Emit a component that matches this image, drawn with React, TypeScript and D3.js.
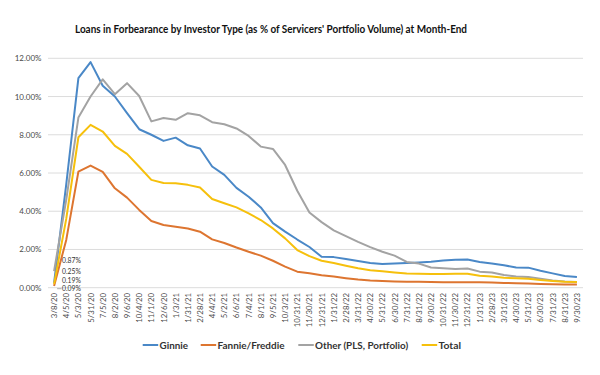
import React from "react";
import * as d3 from "d3";

const dates = [
  "3/8/20", "4/5/20", "5/3/20", "5/31/20", "7/5/20", "8/2/20", "9/6/20", "10/4/20", "11/1/20", "12/6/20",
  "1/3/21", "1/31/21", "2/28/21", "4/4/21", "5/2/21", "6/6/21", "7/4/21", "8/1/21", "9/5/21", "10/3/21",
  "10/31/21", "11/30/21", "12/31/21", "1/31/22", "2/28/22", "3/31/22", "4/30/22", "5/31/22", "6/30/22", "7/31/22",
  "8/31/22", "9/30/22", "10/31/22", "11/30/22", "12/31/22", "1/31/23", "2/28/23", "3/31/23", "4/30/23", "5/31/23",
  "6/30/23", "7/31/23", "8/31/23", "9/30/23",
];

const ginnie = [
  0.25, 5.4, 10.96, 11.8, 10.56, 10.0, 9.13, 8.29, 8.0, 7.68,
  7.85, 7.45, 7.28, 6.34, 5.9, 5.22, 4.76, 4.2, 3.38, 2.93,
  2.52, 2.13, 1.62, 1.6, 1.5, 1.4, 1.29, 1.24, 1.26, 1.29,
  1.32, 1.36, 1.42, 1.46, 1.47, 1.34, 1.27, 1.17, 1.06, 1.05,
  0.89, 0.75, 0.61, 0.56,
];

const fannieFreddie = [
  0.09, 2.5, 6.07, 6.39, 6.06, 5.2, 4.71, 4.07, 3.49, 3.28,
  3.19, 3.1, 2.93, 2.53, 2.34, 2.1, 1.88, 1.68, 1.41, 1.1,
  0.84, 0.75, 0.65, 0.58, 0.5, 0.43, 0.38, 0.35, 0.33, 0.31,
  0.31, 0.3, 0.29, 0.29, 0.29, 0.28, 0.27, 0.25, 0.23, 0.22,
  0.2, 0.18, 0.17, 0.17,
];

const other = [
  0.87, 4.6, 8.9, 10.0, 10.9, 10.12, 10.7, 10.03, 8.7, 8.88,
  8.78, 9.13, 9.02, 8.66, 8.55, 8.33, 7.94, 7.38, 7.26, 6.42,
  5.07, 3.93, 3.43, 3.0, 2.7, 2.4, 2.12, 1.88, 1.68, 1.35,
  1.26, 1.06, 1.02, 0.98, 1.0, 0.84, 0.79, 0.66, 0.59, 0.56,
  0.47, 0.38, 0.33, 0.3,
];

const total = [
  0.19, 3.6, 7.87, 8.52, 8.17, 7.42, 7.0, 6.33, 5.64, 5.48,
  5.46, 5.38, 5.24, 4.64, 4.42, 4.2, 3.89, 3.54, 3.1, 2.58,
  1.97, 1.65, 1.41, 1.29, 1.15, 1.02, 0.91, 0.86, 0.8, 0.74,
  0.73, 0.72, 0.72, 0.73, 0.73, 0.63, 0.58, 0.52, 0.49, 0.47,
  0.4, 0.35, 0.31, 0.3,
];

const yTicks = [0, 2, 4, 6, 8, 10, 12];

const seriesNames = ["Ginnie", "Fannie/Freddie", "Other (PLS, Portfolio)", "Total"];
const seriesColors = ["#4A88C7", "#DD7530", "#A3A3A3", "#F6C00C"];
const seriesData = [ginnie, fannieFreddie, other, total];

const title =
  "Loans in Forbearance by Investor Type (as % of Servicers' Portfolio Volume) at Month-End";

export default function App() {
  const W = 600;
  const H = 375;
  const left = 48;
  const right = 583;
  const top = 58.3;
  const bottom = 287.7;

  const x = d3.scalePoint<string>().domain(dates).range([left, right]).padding(0.5);
  const y = d3.scaleLinear().domain([0, 12]).range([bottom, top]);

  const line = (vals: number[]) =>
    d3
      .line<number>()
      .x((_, i) => x(dates[i]) as number)
      .y((v) => y(v))(vals) as string;

  const font = "Lato, 'Open Sans', 'Liberation Sans', sans-serif";

  // start-value labels (stacked as in the reference)
  const startLabels = [
    { v: other[0], dy: -24.5 },
    { v: ginnie[0], dy: -13.5 },
    { v: total[0], dy: -5 },
    { v: fannieFreddie[0], dy: 3.6 },
  ];

  const legendX = [142.7, 200.7, 298.3, 421.7];
  const legendTextW = [28.5, 67, 93, 22.5];

  return (
    <svg
      width={W}
      height={H}
      style={{ position: "fixed", left: 0, top: 0, background: "#fff" }}
      fontFamily={font}
    >
      <rect x={0} y={0} width={W} height={H} fill="#fff" />
      <text
        x={75}
        y={33}
        fontSize={11}
        fontWeight="bold"
        fill="#111"
        textLength={392}
        lengthAdjust="spacingAndGlyphs"
      >
        {title}
      </text>

      {yTicks.map((t) => (
        <g key={t}>
          <line x1={left} x2={right} y1={y(t)} y2={y(t)} stroke="#DCDCDC" strokeWidth={1} />
          <text x={41.5} y={y(t) + 3} fontSize={8} fill="#4a4a4a" textAnchor="end">
            {t.toFixed(2) + "%"}
          </text>
        </g>
      ))}

      {dates.map((d) => (
        <text
          key={d}
          transform={`translate(${(x(d) as number) + 3},293) rotate(-90)`}
          fontSize={7.8}
          fill="#4a4a4a"
          textAnchor="end"
        >
          {d}
        </text>
      ))}

      {seriesData.map((vals, k) => (
        <path
          key={k}
          d={line(vals)}
          fill="none"
          stroke={seriesColors[k]}
          strokeWidth={2}
          strokeLinejoin="round"
        />
      ))}

      {startLabels.map((l, k) => (
        <text
          key={k}
          x={(x(dates[0]) as number) + 8}
          y={bottom + l.dy}
          fontSize={6.8}
          fill="#333"
        >
          {l.v.toFixed(2) + "%"}
        </text>
      ))}
      <line
        x1={(x(dates[0]) as number) + 3}
        x2={(x(dates[0]) as number) + 7.5}
        y1={bottom + 1}
        y2={bottom + 1}
        stroke="#999"
        strokeWidth={0.8}
      />

      {seriesNames.map((n, k) => (
        <g key={n}>
          <line
            x1={legendX[k]}
            x2={legendX[k] + 15.5}
            y1={345}
            y2={345}
            stroke={seriesColors[k]}
            strokeWidth={2}
          />
          <text
            x={legendX[k] + 16.8}
            y={348.5}
            fontSize={9.5}
            fontWeight="bold"
            fill="#333"
            textLength={legendTextW[k]}
            lengthAdjust="spacingAndGlyphs"
          >
            {n}
          </text>
        </g>
      ))}
    </svg>
  );
}
